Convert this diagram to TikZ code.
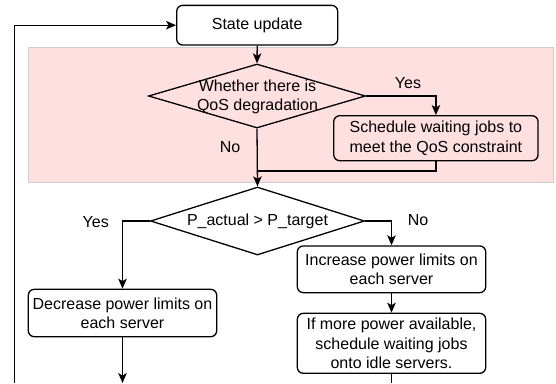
\documentclass[tikz,border=0pt]{standalone}
\usepackage{fontspec}
\setmainfont{Liberation Sans}
\usetikzlibrary{shapes.geometric,arrows.meta}
\definecolor{pinkbg}{RGB}{255,224,224}
\definecolor{pinkbd}{RGB}{205,205,205}
\begin{document}
\begin{tikzpicture}[x=1pt,y=-1pt,line width=1.3pt,
  every node/.style={font=\fontsize{16}{19.3}\selectfont},
  box/.style={draw,rounded corners=6pt,align=center,inner sep=0pt},
  dia/.style={draw,diamond,inner sep=0pt},
  lbl/.style={inner sep=0pt,align=center},
  arr/.style={-{Stealth[length=10pt,width=8.5pt,inset=2.5pt]}}]
\useasboundingbox (0,0) rectangle (556,383);
% pink region
\node[draw=pinkbd,fill=pinkbg,line width=0.8pt,rectangle,inner sep=0pt,
  minimum width=524.3pt,minimum height=134.3pt] (region) at (290.85,114.85) {};
% nodes
\node[box,minimum width=161pt,minimum height=39.7pt] (su) at (257.2,25.2) {State update};
\node[dia,minimum width=217pt,minimum height=64pt] (d1) at (257,96) {};
\node[lbl] (d1t) at (257.5,97.2) {Whether there is\\QoS degradation};
\node[box,minimum width=204.3pt,minimum height=45pt] (sched) at (435.9,138.2) {Schedule waiting jobs to\\meet the QoS constraint};
\node[lbl] (yes1) at (408,83) {Yes};
\node[lbl] (no1) at (230,147) {No};
\node[dia,minimum width=214pt,minimum height=68pt] (d2) at (257.5,221) {};
\node[lbl] (d2t) at (257.5,221.7) {P\_actual > P\_target};
\node[lbl] (yes2) at (95.7,221.7) {Yes};
\node[lbl] (no2) at (418,220) {No};
\node[box,minimum width=188.4pt,minimum height=47.4pt] (dec) at (122.5,313) {Decrease power limits on\\each server};
\node[box,minimum width=188.4pt,minimum height=46.7pt] (inc) at (391.5,269.3) {Increase power limits on\\each server};
\node[box,minimum width=188.4pt,minimum height=60pt] (more) at (391.5,343.3) {If more power available,\\schedule waiting jobs\\onto idle servers.};
% free ends
\coordinate (mg) at (257.5,171);
\coordinate (lb) at (122.5,383);
\coordinate (rb) at (391.5,383);
\coordinate (loop) at (14.7,383);
% connectors
\draw[arr] (loop) |- (su.west);
\draw[arr] (su.south) -- (d1.north);
\draw[arr] (d1.east) -| (sched.north);
\draw (sched.south) |- (mg);
\draw[arr] (d1.south) -- (d2.north);
\draw[arr] (d2.west) -| (dec.north);
\draw[arr] (d2.east) -| (inc.north);
\draw[arr] (inc.south) -- (more.north);
\draw[arr] (dec.south) -- (lb);
\draw (more.south) -- (rb);
\end{tikzpicture}
\end{document}
